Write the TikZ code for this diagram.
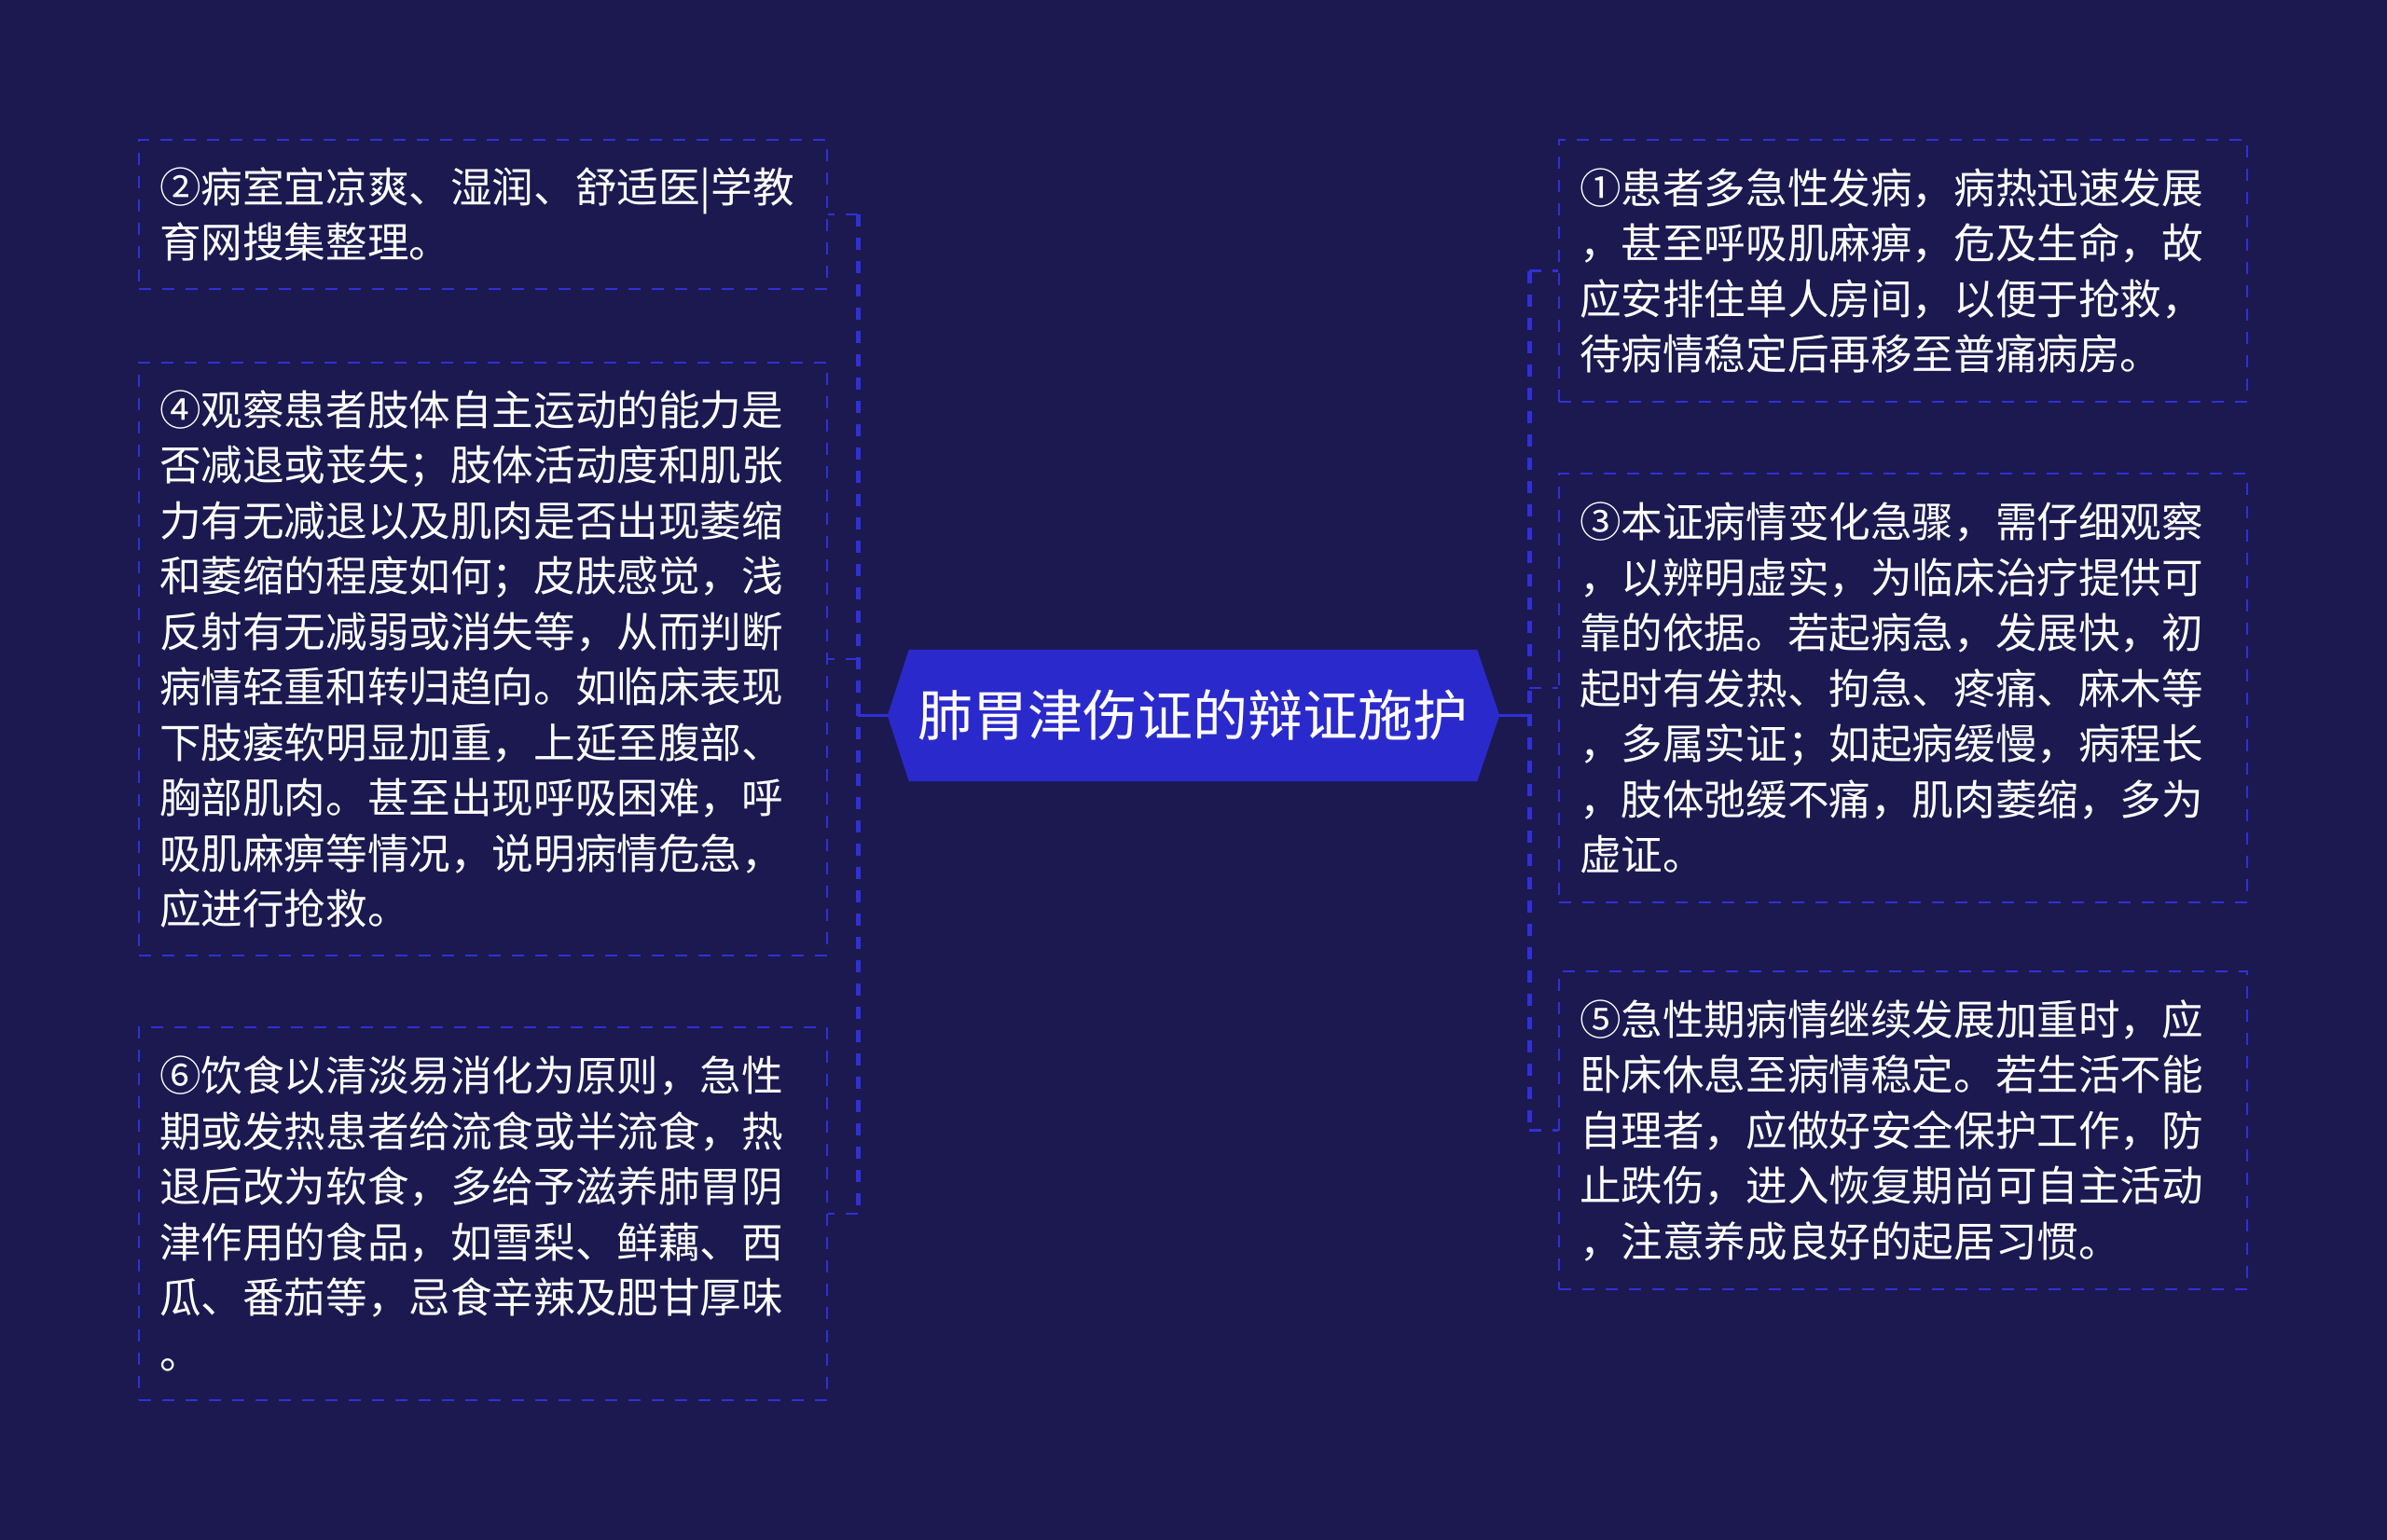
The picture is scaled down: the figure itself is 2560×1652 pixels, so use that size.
\documentclass[tikz,border=0pt]{standalone}
\usepackage{fontspec}
\setmainfont{Noto Sans CJK SC}
\usetikzlibrary{backgrounds}
\definecolor{bgc}{RGB}{27,25,80}
\definecolor{nodec}{RGB}{42,42,204}
\definecolor{linec}{RGB}{48,48,214}
\tikzset{
  textbox/.style={draw=linec, line width=2pt, dash pattern=on 13pt off 12pt,
    text=white, font=\fontsize{44.6pt}{59.5pt}\selectfont, align=left,
    text width=694pt, inner xsep=22pt, inner ysep=0pt, minimum width=738pt},
  rootbox/.style={text=white, font=\fontsize{59pt}{70pt}\selectfont,
    minimum width=609pt, minimum height=141pt, inner sep=0pt},
  trunkline/.style={draw=linec, line width=5pt, dash pattern=on 13pt off 12pt},
  branchline/.style={draw=linec, line width=2.5pt, dash pattern=on 13pt off 12pt},
  rootline/.style={draw=linec, line width=3.5pt}
}
\begin{document}
\begin{tikzpicture}[x=1pt,y=-1pt]
\useasboundingbox (0,0) rectangle (2560,1652);

\node[rootbox] (c) at (1279.5,767.5) {肺胃津伤证的辩证施护};
\coordinate (cw) at ([xshift=-23pt]c.west);
\coordinate (ce) at ([xshift=24pt]c.east);

\node[textbox, minimum height=160pt] (b2) at (518,230) {②病室宜凉爽、湿润、舒适医|学教\\育网搜集整理。};
\node[textbox, minimum height=636pt] (b4) at (518,707) {④观察患者肢体自主运动的能力是\\否减退或丧失；肢体活动度和肌张\\力有无减退以及肌肉是否出现萎缩\\和萎缩的程度如何；皮肤感觉，浅\\反射有无减弱或消失等，从而判断\\病情轻重和转归趋向。如临床表现\\下肢痿软明显加重，上延至腹部、\\胸部肌肉。甚至出现呼吸困难，呼\\吸肌麻痹等情况，说明病情危急，\\应进行抢救。};
\node[textbox, minimum height=400pt] (b6) at (518,1302) {⑥饮食以清淡易消化为原则，急性\\期或发热患者给流食或半流食，热\\退后改为软食，多给予滋养肺胃阴\\津作用的食品，如雪梨、鲜藕、西\\瓜、番茄等，忌食辛辣及肥甘厚味\\。};

\node[textbox, minimum height=281pt] (b1) at (2041,290.5) {①患者多急性发病，病热迅速发展\\，甚至呼吸肌麻痹，危及生命，故\\应安排住单人房间，以便于抢救，\\待病情稳定后再移至普痛病房。};
\node[textbox, minimum height=460pt] (b3) at (2041,738) {③本证病情变化急骤，需仔细观察\\，以辨明虚实，为临床治疗提供可\\靠的依据。若起病急，发展快，初\\起时有发热、拘急、疼痛、麻木等\\，多属实证；如起病缓慢，病程长\\，肢体弛缓不痛，肌肉萎缩，多为\\虚证。};
\node[textbox, minimum height=341pt] (b5) at (2041,1212.5) {⑤急性期病情继续发展加重时，应\\卧床休息至病情稳定。若生活不能\\自理者，应做好安全保护工作，防\\止跌伤，进入恢复期尚可自主活动\\，注意养成良好的起居习惯。};

\coordinate (lt) at (920,767.5);
\coordinate (rt) at (1640,767.5);

% left connectors
\draw[rootline] (cw) -- (lt);
\draw[trunkline] (lt |- b2.east) -- (lt |- b6.east);
\draw[branchline] (lt |- b2.east) -- (b2.east);
\draw[branchline] (lt |- b4.east) -- (b4.east);
\draw[branchline] (lt |- b6.east) -- (b6.east);

% right connectors
\draw[rootline] (ce) -- (rt);
\draw[trunkline] (rt |- b1.west) -- (rt |- b5.west);
\draw[branchline] (rt |- b1.west) -- (b1.west);
\draw[branchline] (rt |- b3.west) -- (b3.west);
\draw[branchline] (rt |- b5.west) -- (b5.west);

\begin{pgfonlayer}{background}
\fill[bgc] (0,0) rectangle (2560,1652);
\fill[nodec] (c.north west) -- (c.north east) -- (ce) -- (c.south east) -- (c.south west) -- (cw) -- cycle;
\end{pgfonlayer}
\end{tikzpicture}
\end{document}
